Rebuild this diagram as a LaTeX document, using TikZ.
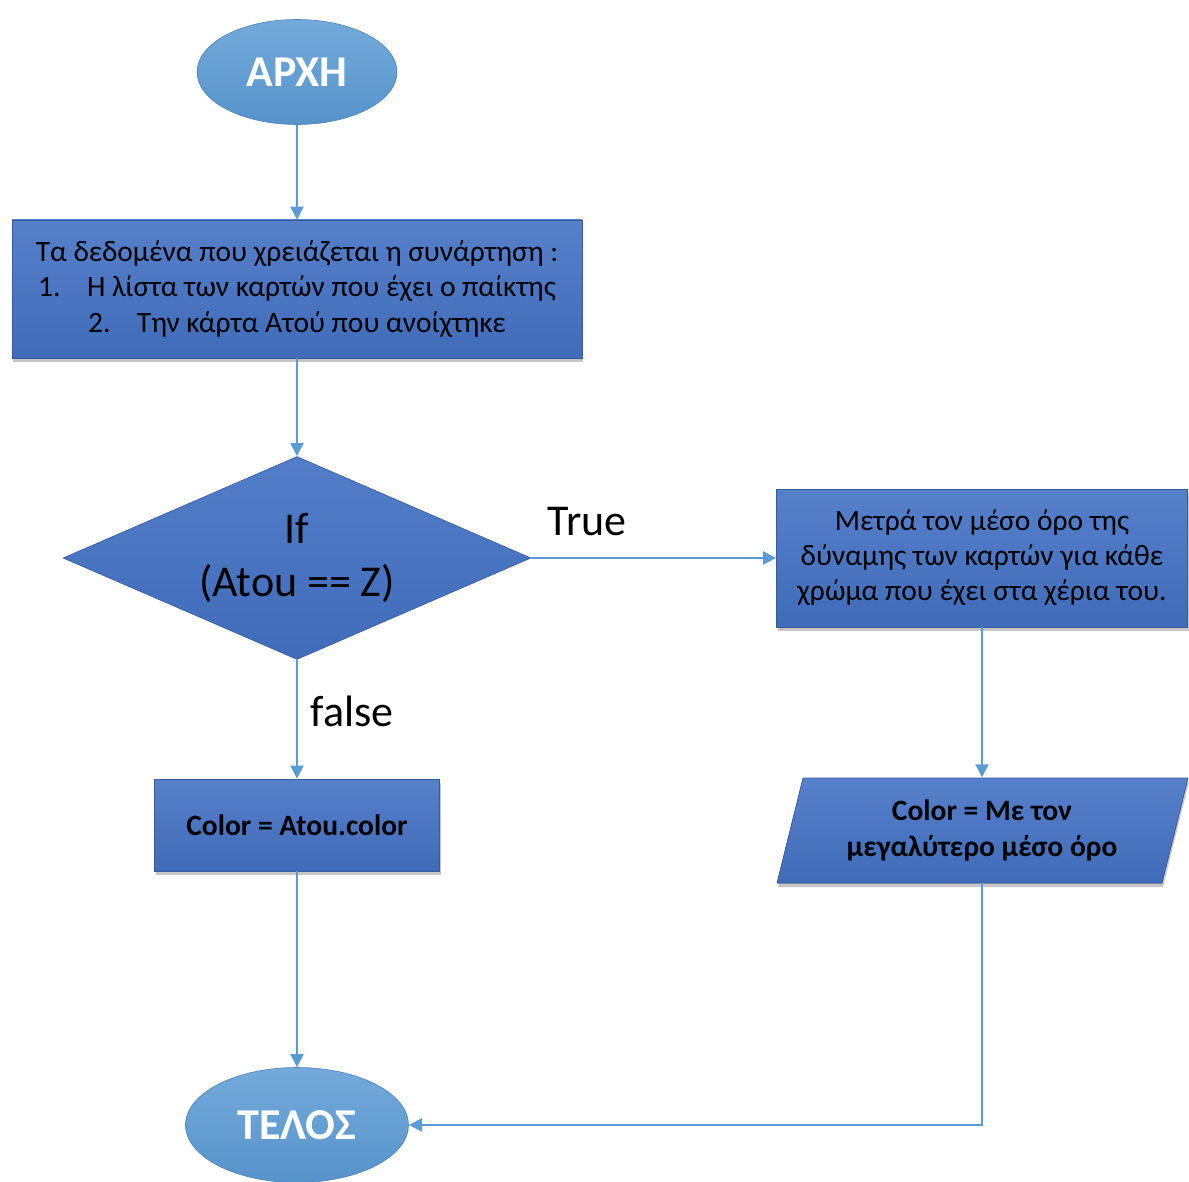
\documentclass[tikz,border=0pt]{standalone}
\usepackage{fontspec}
\setmainfont{Carlito}
\usetikzlibrary{shapes.geometric,shadows,arrows.meta}
\definecolor{termblue}{HTML}{5B9BD5}
\definecolor{boxblue}{HTML}{4472C4}
\definecolor{linkblue}{HTML}{5B9BD5}

\begin{document}
\begin{tikzpicture}[x=1pt,y=-1pt,
  terminal/.style={ellipse, top color=termblue!85!white, bottom color=termblue!95!black,
    draw=termblue!85!black, line width=0.6pt, text=white, inner sep=0pt,
    font=\fontsize{44}{52}\selectfont\bfseries},
  boxshadow/.style={drop shadow={shadow xshift=1pt, shadow yshift=-4pt, opacity=0.45}},
  procbox/.style={rectangle, top color=boxblue!90!white, bottom color=boxblue!94!black,
    draw=boxblue!80!black, line width=0.6pt, align=center, inner sep=0pt,
    font=\fontsize{29.5}{35.5}\selectfont, boxshadow},
  decision/.style={diamond, aspect=2.3, top color=boxblue!92!white, bottom color=boxblue!94!black,
    draw=boxblue!80!black, line width=0.6pt, align=center, inner sep=0pt,
    font=\fontsize{44}{53}\selectfont},
  link/.style={draw=linkblue, line width=2pt, -{Triangle[length=13pt,width=13pt]}},
  branch/.style={font=\fontsize{44}{48}\selectfont, inner sep=0pt}
]
\useasboundingbox (0,0) rectangle (1189,1182);

% terminals
\node[terminal, minimum width=200, minimum height=105] (start) at (297,72) {ΑΡΧΗ};
\node[terminal, minimum width=223, minimum height=115] (end) at (297,1125) {ΤΕΛΟΣ};

% input data
\node[procbox, minimum width=570, minimum height=138] (data) at (297,289)
  {Τα δεδομένα που χρειάζεται η συνάρτηση :\\
   1.\hspace{0.9em}Η λίστα των καρτών που έχει ο παίκτης\\
   2.\hspace{0.9em}Την κάρτα Ατού που ανοίχτηκε};

% condition
\node[decision, minimum width=468, minimum height=203] (cond) at (297,558)
  {If\\(Atou == Z)};

% true branch
\node[procbox, minimum width=411, minimum height=138,
  font=\fontsize{29.5}{35}\selectfont] (avg) at (982,558)
  {Μετρά τον μέσο όρο της\\δύναμης των καρτών για κάθε\\χρώμα που έχει στα χέρια του.};

\fill[top color=boxblue!90!white, bottom color=boxblue!94!black, boxshadow]
  (803,778) -- (1188,778) -- (1162,883) -- (777,883) -- cycle;
\draw[boxblue!80!black, line width=0.6pt]
  (803,778) -- (1188,778) -- (1162,883) -- (777,883) -- cycle;
\node[align=center, inner sep=0pt, minimum width=385, minimum height=105,
  font=\fontsize{29.5}{36}\selectfont\bfseries] (best) at (982,830)
  {Color = Με τον\\μεγαλύτερο μέσο όρο};

% false branch
\node[procbox, minimum width=285, minimum height=92, font=\fontsize{29.5}{35.5}\selectfont\bfseries]
  (pick) at (297,825) {Color = Atou.color};

% connectors
\draw[link] (start.south) -- (data.north);
\draw[link] (data.south) -- (cond.north);
\draw[link] (cond.east) -- (avg.west);
\draw[link] (cond.south) -- (pick.north);
\draw[link] (pick.south) -- (end.north);
\draw[link] (avg.south) -- (best.north);
\draw[link] (best.south) |- (end.east);

% branch labels
\node[branch] (lbltrue) at (587,522) {True};
\node[branch] (lblfalse) at (352,711) {false};
\end{tikzpicture}
\end{document}
